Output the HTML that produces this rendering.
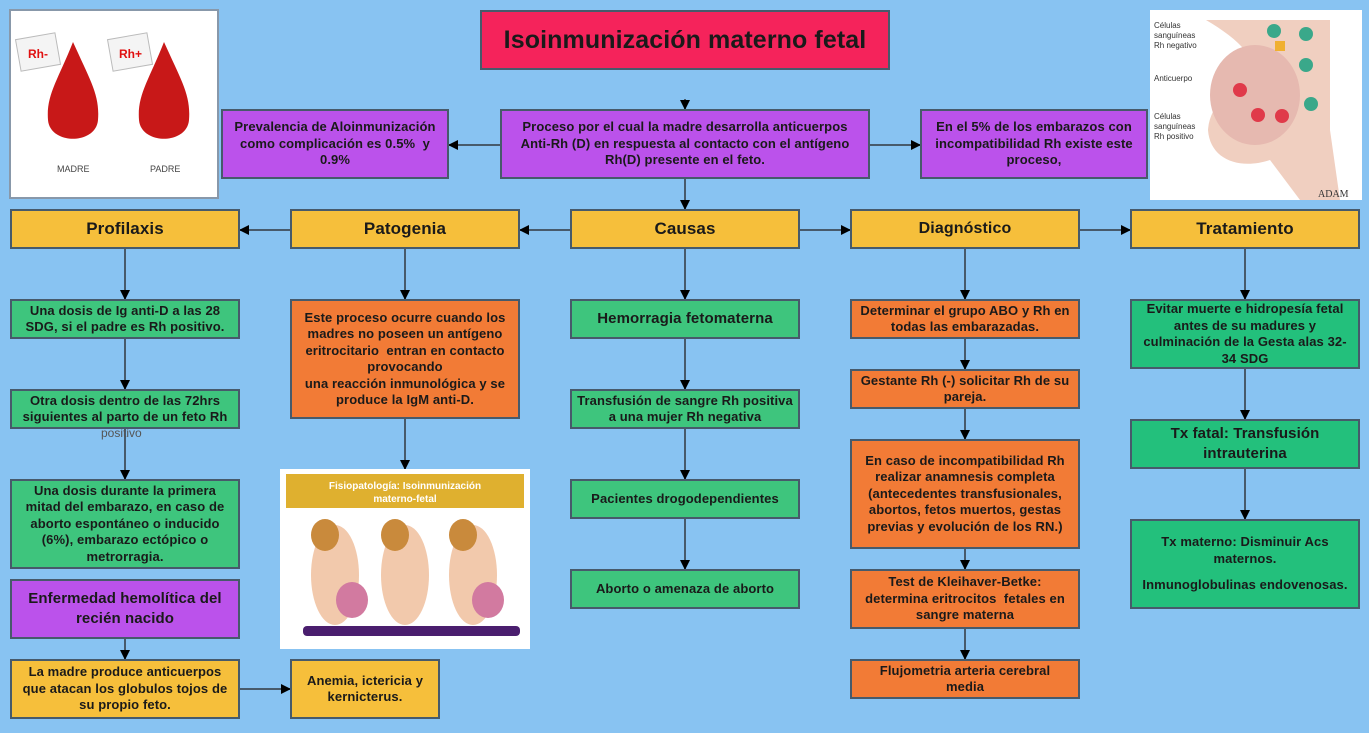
<!DOCTYPE html>
<html><head><meta charset="utf-8"><style>
body{margin:0;width:1369px;height:733px;background:#88c3f2;position:relative;overflow:hidden;font-family:"Liberation Sans",sans-serif;}
.b{position:absolute;box-sizing:border-box;border:2px solid #475a6b;display:flex;align-items:center;justify-content:center;text-align:center;font-weight:bold;font-size:13px;line-height:16.5px;color:#1a1a1a;padding:0 8px;letter-spacing:0.1px;}
.y{background:#f6bf3b}.g{background:#3ec57d}.p{background:#bb52eb}.o{background:#f27b36}.t{background:#23c07c}
.h{font-size:17px;}
svg{position:absolute;left:0;top:0}
</style></head><body>
<svg width="1369" height="733">
<defs><marker id="a" markerWidth="10" markerHeight="10" refX="9" refY="5" orient="auto" markerUnits="userSpaceOnUse"><path d="M0,0 L10,5 L0,10z" fill="#000"/></marker></defs>
<g stroke="#475a6b" stroke-width="2" fill="none" marker-end="url(#a)">
<line x1="685" y1="99" x2="685" y2="109"/>
<line x1="500" y1="145" x2="449" y2="145"/>
<line x1="870" y1="145" x2="920" y2="145"/>
<line x1="685" y1="179" x2="685" y2="209"/>
<line x1="570" y1="230" x2="520" y2="230"/>
<line x1="290" y1="230" x2="240" y2="230"/>
<line x1="800" y1="230" x2="850" y2="230"/>
<line x1="1080" y1="230" x2="1130" y2="230"/>
<line x1="125" y1="249" x2="125" y2="299"/>
<line x1="125" y1="339" x2="125" y2="389"/>
<line x1="125" y1="429" x2="125" y2="479"/>
<line x1="125" y1="639" x2="125" y2="659"/>
<line x1="240" y1="689" x2="290" y2="689"/>
<line x1="405" y1="249" x2="405" y2="299"/>
<line x1="405" y1="419" x2="405" y2="469"/>
<line x1="685" y1="249" x2="685" y2="299"/>
<line x1="685" y1="339" x2="685" y2="389"/>
<line x1="685" y1="429" x2="685" y2="479"/>
<line x1="685" y1="519" x2="685" y2="569"/>
<line x1="965" y1="249" x2="965" y2="299"/>
<line x1="965" y1="339" x2="965" y2="369"/>
<line x1="965" y1="409" x2="965" y2="439"/>
<line x1="965" y1="549" x2="965" y2="569"/>
<line x1="965" y1="629" x2="965" y2="659"/>
<line x1="1245" y1="249" x2="1245" y2="299"/>
<line x1="1245" y1="369" x2="1245" y2="419"/>
<line x1="1245" y1="469" x2="1245" y2="519"/>
</g>
<rect x="10" y="10" width="208" height="188" fill="#fff" stroke="#8898aa" stroke-width="2"/>
<path d="M73,42 C90,80 100,95 98,120 C96,145 50,145 48,120 C46,95 58,80 73,42z" fill="#c81818"/>
<path d="M164,42 C181,80 191,95 189,120 C187,145 141,145 139,120 C137,95 149,80 164,42z" fill="#c81818"/>
<rect x="18" y="36" width="40" height="32" fill="#f4f4f4" stroke="#bbb" transform="rotate(-10 38 52)"/>
<rect x="110" y="36" width="40" height="32" fill="#f4f4f4" stroke="#bbb" transform="rotate(-10 130 52)"/>
<text x="28" y="58" font-family="Liberation Sans" font-weight="bold" font-size="12" fill="#e01010">Rh-</text>
<text x="119" y="58" font-family="Liberation Sans" font-weight="bold" font-size="12" fill="#e01010">Rh+</text>
<text x="57" y="172" font-family="Liberation Sans" font-size="9" fill="#444">MADRE</text>
<text x="150" y="172" font-family="Liberation Sans" font-size="9" fill="#444">PADRE</text>
<rect x="1150" y="10" width="212" height="190" fill="#fff"/>
<path d="M1206,20 C1240,40 1260,60 1260,90 C1240,80 1210,100 1208,130 C1210,160 1240,170 1270,160 L1300,200 L1340,200 L1330,130 L1330,20z" fill="#f0cfc0"/>
<ellipse cx="1255" cy="95" rx="45" ry="50" fill="#e6b9b0"/>
<circle cx="1274" cy="31" r="7" fill="#3aa88a"/><circle cx="1306" cy="34" r="7" fill="#3aa88a"/><circle cx="1306" cy="65" r="7" fill="#3aa88a"/><circle cx="1311" cy="104" r="7" fill="#3aa88a"/>
<circle cx="1240" cy="90" r="7" fill="#e03a4a"/><circle cx="1258" cy="115" r="7" fill="#e03a4a"/><circle cx="1282" cy="116" r="7" fill="#e03a4a"/>
<rect x="1275" y="41" width="10" height="10" fill="#f0b030"/>
<text x="1154" y="28" font-family="Liberation Sans" font-size="8" fill="#333">Células</text>
<text x="1154" y="38" font-family="Liberation Sans" font-size="8" fill="#333">sanguíneas</text>
<text x="1154" y="48" font-family="Liberation Sans" font-size="8" fill="#333">Rh negativo</text>
<text x="1154" y="81" font-family="Liberation Sans" font-size="8" fill="#333">Anticuerpo</text>
<text x="1154" y="119" font-family="Liberation Sans" font-size="8" fill="#333">Células</text>
<text x="1154" y="129" font-family="Liberation Sans" font-size="8" fill="#333">sanguíneas</text>
<text x="1154" y="139" font-family="Liberation Sans" font-size="8" fill="#333">Rh positivo</text>
<text x="1318" y="197" font-family="Liberation Serif" font-size="10" fill="#333">ADAM</text>
<rect x="280" y="469" width="250" height="180" fill="#fff"/>
<rect x="286" y="474" width="238" height="34" fill="#dfb02f"/>
<text x="405" y="489" text-anchor="middle" font-family="Liberation Sans" font-weight="bold" font-size="10" fill="#fff">Fisiopatología: Isoinmunización</text>
<text x="405" y="502" text-anchor="middle" font-family="Liberation Sans" font-weight="bold" font-size="10" fill="#fff">materno-fetal</text>
<g fill="#f2c9ac"><ellipse cx="335" cy="575" rx="24" ry="50"/><ellipse cx="405" cy="575" rx="24" ry="50"/><ellipse cx="473" cy="575" rx="24" ry="50"/></g>
<g fill="#c98a3c"><ellipse cx="325" cy="535" rx="14" ry="16"/><ellipse cx="395" cy="535" rx="14" ry="16"/><ellipse cx="463" cy="535" rx="14" ry="16"/></g>
<ellipse cx="352" cy="600" rx="16" ry="18" fill="#d27aa0"/><ellipse cx="488" cy="600" rx="16" ry="18" fill="#d27aa0"/>
<rect x="303" y="626" width="217" height="10" rx="4" fill="#4a1e6e"/>
</svg>
<div class="b" style="left:480px;top:10px;width:410px;height:60px;background:#f5235b;font-size:25px;">Isoinmunización materno fetal</div>
<div class="b p" style="left:221px;top:109px;width:228px;height:70px;padding:0 4px;">Prevalencia de Aloinmunización como complicación es 0.5%&nbsp; y 0.9%</div>
<div class="b p" style="left:500px;top:109px;width:370px;height:70px;padding:0 16px;">Proceso por el cual la madre desarrolla anticuerpos Anti-Rh (D) en respuesta al contacto con el antígeno Rh(D) presente en el feto.</div>
<div class="b p" style="left:920px;top:109px;width:228px;height:70px;">En el 5% de los embarazos con incompatibilidad Rh existe este proceso,</div>
<div class="b y h" style="left:10px;top:209px;width:230px;height:40px;">Profilaxis</div>
<div class="b y h" style="left:290px;top:209px;width:230px;height:40px;">Patogenia</div>
<div class="b y h" style="left:570px;top:209px;width:230px;height:40px;">Causas</div>
<div class="b y" style="left:850px;top:209px;width:230px;height:40px;font-size:16px;">Diagnóstico</div>
<div class="b y h" style="left:1130px;top:209px;width:230px;height:40px;">Tratamiento</div>
<div class="b g" style="left:10px;top:299px;width:230px;height:40px;">Una dosis de Ig anti-D a las 28 SDG, si el padre es Rh positivo.</div>
<div class="b g" style="left:10px;top:389px;width:230px;height:40px;padding:0 4px;">Otra dosis dentro de las 72hrs siguientes al parto de un feto Rh</div>
<div style="position:absolute;left:101px;top:426px;font-size:12px;color:#555;">positivo</div>
<div class="b g" style="left:10px;top:479px;width:230px;height:90px;">Una dosis durante la primera mitad del embarazo, en caso de aborto espontáneo o inducido (6%), embarazo ectópico o metrorragia.</div>
<div class="b p" style="left:10px;top:579px;width:230px;height:60px;font-size:15px;line-height:20px;">Enfermedad hemolítica del recién nacido</div>
<div class="b y" style="left:10px;top:659px;width:230px;height:60px;">La madre produce anticuerpos que atacan los globulos tojos de su propio feto.</div>
<div class="b y" style="left:290px;top:659px;width:150px;height:60px;">Anemia, ictericia y kernicterus.</div>
<div class="b o" style="left:290px;top:299px;width:230px;height:120px;">Este proceso ocurre cuando los madres no poseen un antígeno eritrocitario&nbsp; entran en contacto provocando<br>una reacción inmunológica y se produce la IgM anti-D.</div>
<div class="b g" style="left:570px;top:299px;width:230px;height:40px;font-size:15px;">Hemorragia fetomaterna</div>
<div class="b g" style="left:570px;top:389px;width:230px;height:40px;padding:0 2px;">Transfusión de sangre Rh positiva a una mujer Rh negativa</div>
<div class="b g" style="left:570px;top:479px;width:230px;height:40px;">Pacientes drogodependientes</div>
<div class="b g" style="left:570px;top:569px;width:230px;height:40px;">Aborto o amenaza de aborto</div>
<div class="b o" style="left:850px;top:299px;width:230px;height:40px;padding:0 4px;">Determinar el grupo ABO y Rh en todas las embarazadas.</div>
<div class="b o" style="left:850px;top:369px;width:230px;height:40px;padding:0 4px;">Gestante Rh (-) solicitar Rh de su pareja.</div>
<div class="b o" style="left:850px;top:439px;width:230px;height:110px;">En caso de incompatibilidad Rh realizar anamnesis completa (antecedentes transfusionales, abortos, fetos muertos, gestas previas y evolución de los RN.)</div>
<div class="b o" style="left:850px;top:569px;width:230px;height:60px;">Test de Kleihaver-Betke: determina eritrocitos&nbsp; fetales en sangre materna</div>
<div class="b o" style="left:850px;top:659px;width:230px;height:40px;padding:0 18px;">Flujometria arteria cerebral media</div>
<div class="b t" style="left:1130px;top:299px;width:230px;height:70px;padding:0 6px;">Evitar muerte e hidropesía fetal antes de su madures y culminación de la Gesta alas 32-34 SDG</div>
<div class="b t" style="left:1130px;top:419px;width:230px;height:50px;font-size:15px;line-height:20px;padding:0 30px;">Tx fatal: Transfusión intrauterina</div>
<div class="b t" style="left:1130px;top:519px;width:230px;height:90px;flex-direction:column;padding:0 4px;"><div style="padding:0 20px">Tx materno: Disminuir Acs maternos.</div><div style="margin-top:10px">Inmunoglobulinas endovenosas.</div></div>
</body></html>
